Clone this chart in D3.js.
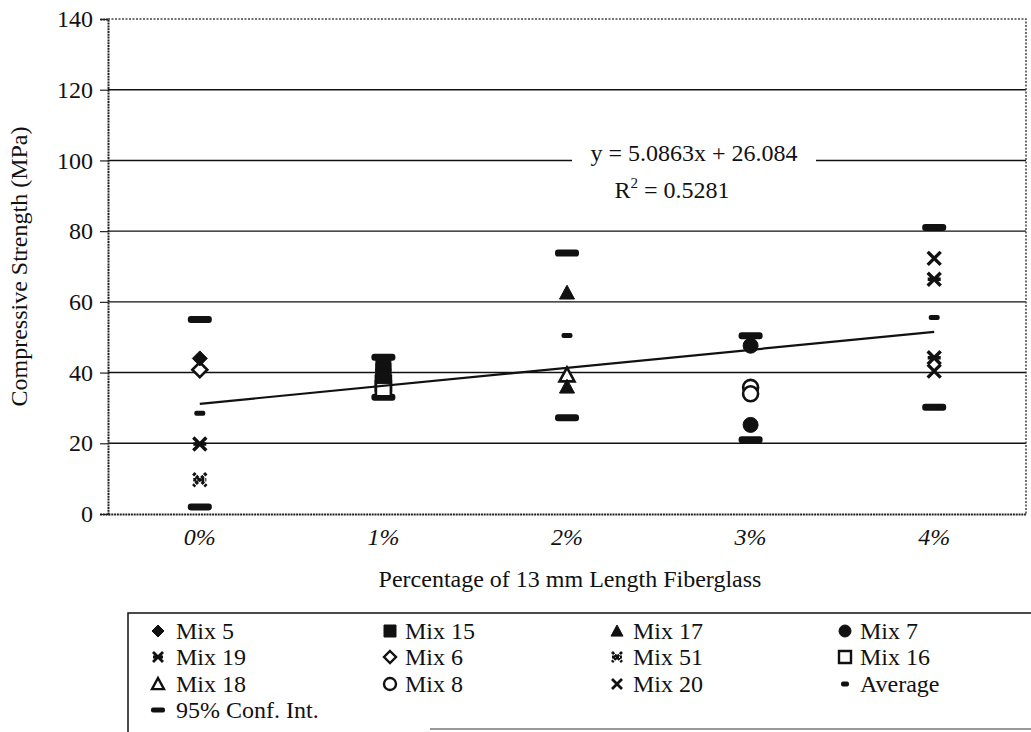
<!DOCTYPE html>
<html>
<head>
<meta charset="utf-8">
<script src="https://cdn.jsdelivr.net/npm/d3@7"></script>
<style>
  body { margin: 0; background: #fff; }
  svg text { font-family: "Liberation Serif", "DejaVu Serif", "Nimbus Roman", "Nimbus Roman No9 L", FreeSerif, "Noto Serif", Tinos, Times, "Times New Roman", serif; }
</style>
</head>
<body>
<svg></svg>
<script>
// categories and tick labels
let categories = ['0%', '1%', '2%', '3%', '4%']
let yTicks = [0, 20, 40, 60, 80, 100, 120, 140]

// series: [category index, value]
let mix5 = [[0, 44]]
let mix15 = [[1, 42.5], [1, 40.5], [1, 39]]
let mix17 = [[2, 62.6], [2, 36]]
let mix7 = [[3, 47.6], [3, 25.2]]
let mix19 = [[0, 19.8], [4, 66.4], [4, 44.2]]
let mix6 = [[0, 40.8]]
let mix51 = [[0, 9.7]]
let mix16 = [[1, 37], [1, 35.4]]
let mix18 = [[2, 39.3]]
let mix8 = [[3, 35.8], [3, 34]]
let mix20 = [[4, 72.3], [4, 40.4]]

let average = [28.5, 38.6, 50.5, 35.8, 55.6]
let ciLow = [2, 33, 27.2, 21, 30.2]
let ciHigh = [55, 44.3, 73.8, 50.4, 81]

let slope = 5.0863
let intercept = 26.084
let eqText = 'y = 5.0863x + 26.084'
let r2Value = '0.5281'

let width = 1031
let height = 732
let plotLeft = 108
let plotRight = 1026
let plotTop = 19
let plotBottom = 514
let fs = 24

let svg = d3.select('svg').attr('width', width).attr('height', height)

let xScale = d3.scaleBand().domain(categories).range([plotLeft, plotRight]).padding(0)
let yScale = d3.scaleLinear().domain([0, 140]).range([plotBottom, plotTop])
let cx = (i) => xScale(categories[i]) + xScale.bandwidth() / 2

// gridlines
svg.append('g')
  .selectAll('line')
  .data(yTicks.filter(d => d > 0 && d < 140))
  .enter()
  .append('line')
  .attr('x1', plotLeft).attr('x2', plotRight)
  .attr('y1', d => yScale(d)).attr('y2', d => yScale(d))
  .attr('stroke', '#111').attr('stroke-width', 1.4)

// dotted frame top/right
svg.append('path')
  .attr('d', `M${plotLeft},${plotTop}H${plotRight}V${plotBottom}`)
  .attr('fill', 'none').attr('stroke', '#444').attr('stroke-width', 1.5)
  .attr('stroke-dasharray', '2,1.5')

// y axis
let yAxis = d3.axisLeft(yScale).tickValues(yTicks).tickSize(8).tickPadding(7)
let gy = svg.append('g').attr('transform', `translate(${plotLeft},0)`).call(yAxis)
gy.select('.domain').attr('stroke', '#222').attr('stroke-width', 2).attr('stroke-dasharray', '2,0.8')
gy.selectAll('.tick line').attr('stroke', '#222').attr('stroke-width', 1.2)
gy.selectAll('.tick text').attr('font-size', fs).attr('fill', '#111')

// x axis
let xAxis = d3.axisBottom(xScale).tickSize(0).tickPadding(14)
let gx = svg.append('g').attr('transform', `translate(0,${plotBottom})`).call(xAxis)
gx.select('.domain').attr('stroke', '#222').attr('stroke-width', 2).attr('stroke-dasharray', '2,0.8')
gx.selectAll('.tick text').attr('font-size', fs).attr('font-style', 'italic').attr('fill', '#111')

// axis titles
svg.append('text')
  .attr('transform', `translate(27,${(plotTop + plotBottom) / 2}) rotate(-90)`)
  .attr('text-anchor', 'middle').attr('font-size', fs).attr('fill', '#111')
  .text('Compressive Strength (MPa)')

svg.append('text')
  .attr('x', (plotLeft + plotRight) / 2 + 3).attr('y', 587)
  .attr('text-anchor', 'middle').attr('font-size', fs).attr('fill', '#111')
  .text('Percentage of 13 mm Length Fiberglass')

// marker shapes
let shapePath = (type, s) => {
  let h = s / 2
  if (type === 'diamond') return `M0,${-h}L${h},0L0,${h}L${-h},0Z`
  if (type === 'square') return `M${-h},${-h}H${h}V${h}H${-h}Z`
  if (type === 'triangle') return `M0,${-h}L${h},${h * 0.85}H${-h}Z`
  if (type === 'circle') return d3.symbol(d3.symbolCircle, Math.PI * h * h)()
  if (type === 'x') return `M${-h},${-h}L${h},${h}M${h},${-h}L${-h},${h}`
  if (type === 'star') return `M${-h},${-h}L${h},${h}M${h},${-h}L${-h},${h}M${-h},0H${h}`
  return ''
}

let styleMarker = (sel, type, filled) => {
  let lineType = type === 'x' || type === 'star'
  sel.attr('d', shapePath(type, lineType ? 13 : 15))
    .attr('fill', lineType ? 'none' : (filled ? '#111' : '#fff'))
    .attr('stroke', '#111')
    .attr('stroke-width', lineType ? 3.4 : (filled ? 1 : 2.6))
    .attr('stroke-dasharray', type === 'star' && !filled ? '3,1' : null)
}

let seriesList = [
  { name: 'Mix 5', data: mix5, type: 'diamond', filled: true },
  { name: 'Mix 15', data: mix15, type: 'square', filled: true },
  { name: 'Mix 17', data: mix17, type: 'triangle', filled: true },
  { name: 'Mix 7', data: mix7, type: 'circle', filled: true },
  { name: 'Mix 19', data: mix19, type: 'star', filled: true },
  { name: 'Mix 6', data: mix6, type: 'diamond', filled: false },
  { name: 'Mix 51', data: mix51, type: 'star', filled: false },
  { name: 'Mix 16', data: mix16, type: 'square', filled: false },
  { name: 'Mix 18', data: mix18, type: 'triangle', filled: false },
  { name: 'Mix 8', data: mix8, type: 'circle', filled: false },
  { name: 'Mix 20', data: mix20, type: 'x', filled: true }
]

// confidence interval bars
let ciData = []
ciLow.forEach((v, i) => { ciData.push([i, v]); ciData.push([i, ciHigh[i]]) })
svg.append('g').selectAll('rect')
  .data(ciData).enter().append('rect')
  .attr('x', d => cx(d[0]) - 12).attr('y', d => yScale(d[1]) - 3.5)
  .attr('width', 24).attr('height', 7).attr('rx', 3)
  .attr('fill', '#111')

// averages
svg.append('g').selectAll('rect')
  .data(average).enter().append('rect')
  .attr('x', (d, i) => cx(i) - 5.5).attr('y', d => yScale(d) - 2.5)
  .attr('width', 11).attr('height', 5).attr('rx', 2)
  .attr('fill', '#111')

// series markers (open ones first so filled ones sit on top, as in the source)
let drawOrder = seriesList.filter(s => !s.filled).concat(seriesList.filter(s => s.filled))
drawOrder.forEach(s => {
  svg.append('g').selectAll('path')
    .data(s.data).enter().append('path')
    .attr('transform', d => `translate(${cx(d[0])},${yScale(d[1])})`)
    .call(sel => styleMarker(sel, s.type, s.filled))
})

// trendline
let trendPts = categories.map((c, i) => [i, slope * (i + 1) + intercept])
svg.append('path')
  .datum([trendPts[0], trendPts[trendPts.length - 1]])
  .attr('d', d3.line().x(d => cx(d[0])).y(d => yScale(d[1])))
  .attr('fill', 'none').attr('stroke', '#111').attr('stroke-width', 2.2)

// equation label
svg.append('rect').attr('x', 572).attr('y', 140).attr('width', 244).attr('height', 64).attr('fill', '#fff')
svg.append('text').attr('x', 694).attr('y', 161).attr('text-anchor', 'middle')
  .attr('font-size', fs).attr('fill', '#111').text(eqText)
let r2 = svg.append('text').attr('x', 672).attr('y', 198).attr('text-anchor', 'middle')
  .attr('font-size', fs).attr('fill', '#111')
r2.append('tspan').text('R')
r2.append('tspan').attr('font-size', 15).attr('dy', -10).text('2')
r2.append('tspan').attr('dy', 10).text(' = ' + r2Value)

// legend
svg.append('path')
  .attr('d', 'M1040,613H128V732')
  .attr('fill', 'none').attr('stroke', '#111').attr('stroke-width', 1.5)
svg.append('line').attr('x1', 430).attr('x2', 1040).attr('y1', 729).attr('y2', 729)
  .attr('stroke', '#777').attr('stroke-width', 1.5)

let colMarker = [158, 390, 617, 845]
let colText = [176, 405, 633, 860]
let rowY = [631, 657, 684, 710]

let legendItems = seriesList.map(s => ({ name: s.name, type: s.type, filled: s.filled }))
legendItems.push({ name: 'Average', type: 'avg' })
legendItems.push({ name: '95% Conf. Int.', type: 'ci' })

let lg = svg.append('g')
legendItems.forEach((it, i) => {
  let col = i % 4
  let row = Math.floor(i / 4)
  let mx = colMarker[col]
  let my = rowY[row]
  if (it.type === 'avg') {
    lg.append('rect').attr('x', mx - 4).attr('y', my - 2.5).attr('width', 8).attr('height', 5).attr('rx', 2).attr('fill', '#111')
  } else if (it.type === 'ci') {
    lg.append('rect').attr('x', mx - 7).attr('y', my - 2.5).attr('width', 14).attr('height', 5).attr('rx', 2).attr('fill', '#111')
  } else {
    let p = lg.append('path').attr('transform', `translate(${mx},${my})`)
    let lineType = it.type === 'x' || it.type === 'star'
    p.attr('d', shapePath(it.type, lineType ? 10 : 12))
      .attr('fill', lineType ? 'none' : (it.filled ? '#111' : '#fff'))
      .attr('stroke', '#111')
      .attr('stroke-width', lineType ? 2.8 : (it.filled ? 1 : 2.4))
      .attr('stroke-dasharray', it.type === 'star' && !it.filled ? '3,1' : null)
  }
  lg.append('text').attr('x', colText[col]).attr('y', my + 8)
    .attr('font-size', fs).attr('fill', '#111').text(it.name)
})
</script>
</body>
</html>
